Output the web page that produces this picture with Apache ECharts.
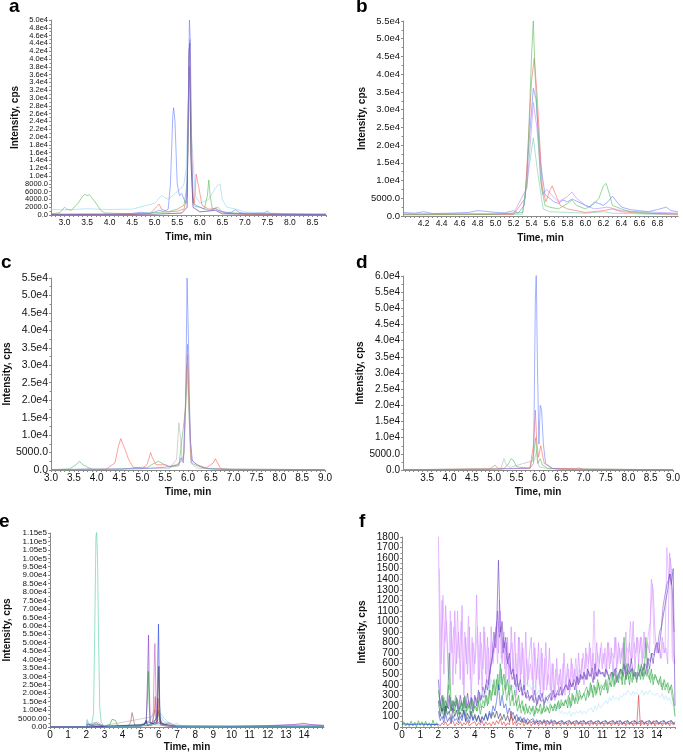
<!DOCTYPE html>
<html><head><meta charset="utf-8">
<script src="https://cdn.jsdelivr.net/npm/echarts@6/dist/echarts.min.js"></script>
<style>html,body{margin:0;padding:0;background:#fff}#c{width:683px;height:753px}</style>
</head><body><div id="c"></div>
<script>
// ---------- Panel a ----------
const aXTicks = [3.0,3.5,4.0,4.5,5.0,5.5,6.0,6.5,7.0,7.5,8.0,8.5];
const aBlue = [[2.7,300],[3.0,250],[3.5,300],[4.0,250],[4.5,400],[4.7,700],[4.9,400],[5.0,800],[5.1,1200],[5.2,900],[5.3,1500],[5.35,8000],[5.4,25000],[5.42,27500],[5.45,24000],[5.5,8000],[5.55,5000],[5.6,5500],[5.65,4000],[5.7,3000],[5.74,20000],[5.77,50000],[5.79,45000],[5.82,15000],[5.86,3000],[5.9,2200],[6.0,2000],[6.1,1600],[6.2,1200],[6.3,1400],[6.35,1800],[6.4,1200],[6.5,800],[6.6,600],[6.7,700],[6.8,1400],[6.85,800],[6.95,500],[7.2,400],[7.45,500],[7.5,1100],[7.55,400],[7.8,200],[8.5,200],[8.8,200]];
const aCyan = [[2.7,1500],[3.0,1300],[3.5,1600],[4.0,1400],[4.5,1500],[5.0,3000],[5.15,5000],[5.3,4000],[5.5,6000],[5.6,7000],[5.65,8000],[5.7,12000],[5.77,38000],[5.82,20000],[5.9,5000],[6.0,3000],[6.2,4000],[6.35,7000],[6.45,8000],[6.5,4000],[6.6,2000],[6.8,1500],[7.0,800],[7.5,500],[8.0,300],[8.8,200]];
const aRed = [[2.7,100],[4.5,200],[4.9,400],[5.05,2200],[5.1,2800],[5.15,1500],[5.3,800],[5.5,1000],[5.65,1500],[5.72,5000],[5.76,40000],[5.78,45000],[5.8,30000],[5.84,5000],[5.88,3000],[5.92,10500],[5.95,11000],[5.98,7000],[6.05,2500],[6.2,1500],[6.35,1600],[6.45,1000],[6.6,400],[7.0,200],[8.8,100]];
const aGreen = [[2.7,200],[2.9,600],[3.0,2000],[3.05,1500],[3.15,1200],[3.3,3000],[3.4,4800],[3.45,5300],[3.5,5000],[3.55,5200],[3.6,4500],[3.7,3000],[3.8,1200],[3.9,500],[4.5,300],[5.0,600],[5.3,800],[5.5,1500],[5.65,2500],[5.72,8000],[5.77,38000],[5.8,20000],[5.85,3000],[6.0,2000],[6.1,1500],[6.17,5000],[6.2,9000],[6.23,5000],[6.28,1500],[6.4,2000],[6.5,800],[7.0,300],[8.8,200]];
const aDark = [[2.7,100],[5.0,200],[5.6,500],[5.72,2000],[5.76,42000],[5.78,44000],[5.8,15000],[5.85,2000],[6.0,800],[6.35,1200],[6.5,300],[8.8,100]];

// ---------- Panel b ----------
const bXTicks = [4.2,4.4,4.6,4.8,5.0,5.2,5.4,5.6,5.8,6.0,6.2,6.4,6.6,6.8];
const bBlue = [[3.97,1000],[4.1,800],[4.2,1200],[4.3,700],[4.5,800],[4.7,1000],[4.8,1500],[4.9,1300],[5.0,1000],[5.1,900],[5.2,1500],[5.25,800],[5.32,3000],[5.37,20000],[5.42,36000],[5.45,33000],[5.5,15000],[5.55,6000],[5.6,5000],[5.65,4000],[5.7,3500],[5.75,4500],[5.8,4000],[5.85,4800],[5.9,4200],[6.0,3000],[6.05,2500],[6.1,4000],[6.15,3500],[6.2,3000],[6.25,4000],[6.3,5600],[6.35,4000],[6.4,2500],[6.5,1800],[6.6,1500],[6.7,1200],[6.8,1800],[6.9,2500],[6.95,1500],[7.03,1200]];
const bGreen = [[3.97,500],[5.0,500],[5.3,1000],[5.35,10000],[5.4,45000],[5.42,55000],[5.44,40000],[5.5,10000],[5.55,3000],[5.6,2500],[5.7,2000],[5.8,3500],[5.85,4500],[5.9,3000],[6.0,2000],[6.1,3500],[6.15,5000],[6.2,8500],[6.23,9200],[6.27,6000],[6.3,3000],[6.4,2000],[6.5,1200],[6.7,800],[7.03,600]];
const bRed = [[3.97,400],[5.2,400],[5.33,5000],[5.4,38000],[5.43,44500],[5.46,35000],[5.52,8000],[5.56,4000],[5.6,7000],[5.63,8500],[5.67,6000],[5.72,3000],[5.8,2000],[5.9,1500],[6.0,1000],[6.2,1500],[6.3,2000],[6.4,1200],[6.6,800],[7.03,500]];
const bPurple = [[3.97,600],[5.2,700],[5.35,8000],[5.42,32000],[5.46,25000],[5.52,6000],[5.57,7500],[5.62,6000],[5.7,4000],[5.8,5500],[5.85,6800],[5.9,5000],[6.0,3000],[6.1,2000],[6.25,2500],[6.4,1500],[6.6,1200],[7.03,800]];
const bTeal = [[3.97,300],[5.3,500],[5.38,15000],[5.42,22000],[5.47,12000],[5.53,2000],[5.6,1200],[5.8,1000],[6.0,800],[6.2,1200],[6.3,800],[7.03,300]];

// ---------- Panel c ----------
const cXTicks = [3.0,3.5,4.0,4.5,5.0,5.5,6.0,6.5,7.0,7.5,8.0,8.5,9.0];
const cBlue = [[3.0,100],[3.5,200],[3.8,300],[4.0,200],[5.0,400],[5.5,800],[5.8,1500],[5.85,3500],[5.9,2000],[5.95,20000],[5.98,55000],[6.01,37000],[6.05,8000],[6.1,2500],[6.2,1500],[6.3,800],[6.5,300],[7.0,100],[9.0,100]];
const cRed = [[3.0,100],[4.2,200],[4.4,2000],[4.48,7000],[4.53,9000],[4.57,7500],[4.62,6000],[4.7,3000],[4.8,800],[5.0,500],[5.1,1500],[5.15,3500],[5.18,5000],[5.22,3500],[5.3,1500],[5.5,1500],[5.6,1000],[5.75,1500],[5.9,3000],[5.96,25000],[5.99,36000],[6.02,20000],[6.07,3000],[6.2,1500],[6.4,600],[6.55,2000],[6.6,3200],[6.65,2000],[6.72,300],[7.0,100],[9.0,100]];
const cGreen = [[3.0,100],[3.4,300],[3.55,1500],[3.62,2500],[3.7,1500],[3.8,800],[3.9,200],[4.5,200],[5.0,800],[5.1,600],[5.2,1500],[5.35,2500],[5.45,1800],[5.6,800],[5.8,1200],[5.95,18000],[5.99,33000],[6.03,15000],[6.08,2000],[6.2,1200],[6.4,400],[7.0,100],[9.0,100]];
const cGray = [[3.0,50],[5.6,500],[5.75,3000],[5.8,13500],[5.83,10000],[5.87,3000],[5.92,5000],[5.97,30000],[6.01,20000],[6.06,2000],[6.2,500],[9.0,50]];

// ---------- Panel d ----------
const dXTicks = [3.5,4.0,4.5,5.0,5.5,6.0,6.5,7.0,7.5,8.0,8.5,9.0];
const dBlue = [[2.96,100],[5.0,200],[5.2,400],[5.5,500],[5.8,600],[5.88,2000],[5.92,52000],[5.94,61000],[5.97,30000],[6.0,8000],[6.03,20000],[6.06,18500],[6.1,8000],[6.15,2000],[6.3,500],[6.5,200],[9.0,100]];
const dRed = [[2.96,100],[4.9,300],[5.02,1500],[5.08,500],[5.3,400],[5.8,500],[5.88,8000],[5.92,18500],[5.95,9000],[5.99,4000],[6.04,7500],[6.08,7000],[6.12,2000],[6.3,500],[6.8,400],[6.9,600],[7.0,200],[9.0,100]];
const dGreen = [[2.96,100],[5.2,300],[5.3,1500],[5.38,3500],[5.43,3000],[5.5,1000],[5.8,500],[5.88,5000],[5.93,10000],[5.97,2000],[6.03,3500],[6.08,1500],[6.2,500],[6.5,300],[9.0,100]];
const dGray = [[2.96,50],[5.15,500],[5.22,3500],[5.27,1500],[5.35,800],[5.9,3000],[5.95,6000],[6.0,1000],[6.2,400],[9.0,50]];

// ---------- Panel e ----------
const eXTicks = [0,1,2,3,4,5,6,7,8,9,10,11,12,13,14];
const eTeal = [[0,0],[2.0,0],[2.05,2500],[2.15,800],[2.3,1500],[2.4,8000],[2.47,60000],[2.53,112000],[2.57,116000],[2.62,100000],[2.68,50000],[2.74,12000],[2.82,3000],[2.95,800],[3.2,400],[4.0,300],[5.0,500],[5.4,1500],[6.0,1200],[7.0,400],[10.0,200],[15.1,300]];
const eGreen = [[0,0],[2.0,0],[2.2,800],[2.6,1500],[3.0,500],[3.3,1500],[3.42,4500],[3.5,5200],[3.6,4000],[3.72,1000],[4.0,300],[5.0,800],[5.3,3000],[5.38,20000],[5.42,33000],[5.46,15000],[5.52,2000],[5.9,5000],[5.98,9000],[6.05,3000],[6.3,1500],[7.0,500],[12.0,300],[14.0,800],[15.1,500]];
const eBrown = [[0,0],[2.0,0],[4.3,300],[4.45,3000],[4.52,8500],[4.58,6000],[4.66,1500],[4.8,300],[5.2,1500],[5.3,3800],[5.36,1500],[5.9,2000],[5.95,17000],[6.0,8000],[6.1,1000],[7.0,200],[15.1,200]];
const ePurple = [[0,0],[2.0,0],[2.05,1500],[2.3,1200],[2.55,2500],[2.62,3500],[2.7,1500],[3.0,400],[5.0,800],[5.3,2000],[5.38,30000],[5.43,54500],[5.47,25000],[5.52,3000],[5.7,1500],[6.0,2500],[6.3,800],[7.0,400],[10.0,500],[12.0,800],[13.5,1500],[14.0,2200],[14.3,1500],[15.1,1000]];
const ePink = [[0,0],[2.0,0],[2.1,2000],[2.3,800],[3.0,300],[5.5,1000],[5.68,3000],[5.74,35000],[5.78,49500],[5.82,30000],[5.87,3000],[6.2,1500],[6.6,2500],[6.8,1000],[7.0,600],[10.0,300],[14.0,1200],[15.1,800]];
const eBlue = [[0,0],[2.0,0],[2.1,500],[3.0,300],[5.0,400],[5.4,3000],[5.7,2000],[5.9,6000],[5.95,45000],[5.98,61000],[6.02,30000],[6.06,5000],[6.2,2000],[6.5,800],[7.0,300],[15.1,200]];
const eDark = [[0,0],[2.0,0],[3.0,200],[5.2,1500],[5.3,4000],[5.36,1000],[5.9,3000],[5.97,25000],[6.0,36000],[6.04,12000],[6.1,2000],[7.0,300],[15.1,200]];
const eRed = [[0,0],[2.0,0],[2.1,1500],[2.5,500],[5.6,800],[5.75,8000],[5.8,18000],[5.85,5000],[5.95,4000],[6.0,10000],[6.05,3000],[6.3,800],[7.0,300],[15.1,100]];
const eCyan = [[0,0],[2.0,0],[2.05,4000],[2.2,1500],[3.0,500],[5.0,1500],[5.5,4000],[5.8,10000],[5.9,6000],[6.1,8000],[6.2,9000],[6.3,5000],[6.5,3000],[6.7,1500],[7.0,2000],[7.2,800],[8.0,300],[15.1,200]];
const eGray = [[0,0],[2.0,0],[2.05,4500],[2.1,1500],[2.6,3000],[3.0,800],[5.6,6000],[5.75,10000],[5.85,3000],[6.1,6000],[6.3,3000],[7.0,800],[15.1,200]];

// ---------- Panel f (sampled every 0.1 min; "A" traces start at 2.00, "B" traces at 2.05) ----------
const fXTicks = [0,1,2,3,4,5,6,7,8,9,10,11,12,13,14];
const fStep = 0.1;
const fViolet = [1850,300,1200,500,1150,700,350,1000,400,1100,600,
 900,450,1150,300,850,500,950,250,800,600,
 1250,400,900,350,950,500,850,300,950,600,
 850,1000,700,1100,600,900,400,850,350,950,
 500,900,300,850,450,800,350,900,400,700,
 850,300,750,450,800,300,700,350,800,400,
 750,300,600,250,650,350,550,300,700,400,
 600,300,650,400,550,350,700,450,650,400,
 750,450,800,500,700,450,800,500,750,550,
 700,500,800,550,750,500,850,550,800,600,
 750,550,900,500,800,600,1000,550,850,600,
 850,600,900,650,800,700,1400,1300,900,700,
 800,650,850,700,750,600,1650,1500,700,600];
const fViolet2 = [1500,600,1250,800,1000,450,1100,700,950,500,
 1100,650,1000,400,900,600,1050,450,850,500,
 700,950,450,800,550,900,400,750,500,800,
 700,950,600,1200,650,850,550,800,450,700,
 800,450,700,400,850,500,750,350,650,450,
 600,450,800,350,650,400,750,300,650,350,
 500,350,600,300,550,400,500,350,600,300,
 450,550,350,600,450,650,400,550,500,700,
 550,700,600,750,500,1100,550,700,600,800,
 600,750,550,800,600,700,650,850,600,750,
 650,800,600,750,700,1000,650,800,700,850,
 700,850,650,800,750,900,1000,1350,800,750,
 700,750,650,800,700,1700,1400,1600,650,600];
const fDarkPurple = [450,200,300,150,250,180,300,150,250,200,280,
 150,300,200,250,180,320,200,280,150,300,
 200,350,250,300,280,400,350,500,600,700,
 800,950,1580,900,1000,750,850,600,700,500,
 550,400,500,350,450,300,400,280,350,250,
 300,250,350,200,300,250,320,200,280,250,
 300,250,350,280,320,300,380,300,350,400,
 350,450,380,420,350,480,400,500,450,520,
 450,550,480,500,420,600,480,550,500,520,
 480,550,500,450,520,480,550,420,500,550,
 500,600,450,550,500,650,480,520,450,500,
 550,480,600,500,650,550,700,600,750,800,
 700,850,1000,1100,1200,1300,1450,1350,1500,200];
const fDarkPurple2 = [300,180,260,140,220,170,280,160,240,190,
 260,170,230,150,290,180,250,170,270,200,
 280,230,330,260,380,320,450,400,550,650,
 900,750,1100,850,950,700,800,650,600,550,
 450,500,380,420,330,380,300,330,270,300,
 270,300,230,280,220,300,240,260,230,280,
 270,320,260,300,280,350,300,320,330,380,
 400,350,420,380,450,400,470,420,490,460,
 500,450,530,480,560,450,520,480,540,500,
 520,470,540,480,500,520,480,560,470,520,
 550,480,580,500,600,520,560,480,520,480,
 520,580,540,600,560,650,620,700,680,750,
 780,900,950,1150,1250,1350,1400,1450,1300,900];
const fGreen = [350,200,150,280,120,250,700,180,220,150,250,
 120,200,150,280,100,220,180,250,130,200,
 150,250,120,200,180,300,200,350,250,400,
 300,450,350,600,400,500,350,450,300,400,
 250,350,200,300,180,250,150,220,130,200,
 150,200,120,180,150,220,130,200,150,180,
 130,200,150,220,170,250,180,230,200,260,
 180,280,200,300,220,350,250,300,280,320,
 250,350,300,400,280,380,320,420,300,380,
 350,450,320,420,380,500,400,480,420,550,
 400,850,450,520,400,550,450,500,420,600,
 450,550,480,850,500,450,550,400,500,450,
 400,480,350,450,380,420,350,400,300,100];
const fGreen2 = [250,150,300,120,200,400,150,250,180,300,
 200,120,250,180,300,150,200,120,250,180,
 200,150,280,180,250,200,300,220,350,300,
 450,300,500,350,550,300,400,250,350,200,
 300,200,250,150,220,130,200,120,180,150,
 120,180,100,200,130,170,120,180,140,200,
 160,220,180,200,150,230,170,260,200,250,
 220,300,180,320,250,280,220,350,260,300,
 300,380,280,420,320,400,300,450,350,400,
 380,420,350,480,400,520,380,500,450,480,
 450,520,400,600,450,500,420,550,480,520,
 480,600,450,520,480,550,420,500,450,480,
 420,450,380,420,350,400,320,380,280,200];
const fCyan = [100,150,200,120,180,100,150,200,130,170,120,
 150,180,120,200,150,170,130,180,150,200,
 200,250,300,250,350,300,400,350,450,380,
 450,400,500,420,480,400,450,380,420,350,
 400,350,420,380,450,350,400,420,380,400,
 350,400,380,300,350,280,320,250,300,220,
 250,200,180,220,150,180,130,150,120,140,
 120,150,100,140,120,150,130,160,120,150,
 130,160,150,180,140,200,160,220,180,200,
 200,250,220,280,250,300,260,280,250,300,
 280,320,300,350,320,300,340,310,330,300,
 320,350,300,340,310,350,320,330,300,320,
 300,280,320,260,300,250,280,220,200,100];
const fBlue = [150,60,100,40,120,50,90,30,110,60,80,
 40,100,60,150,50,90,40,120,60,100,
 50,110,40,90,60,130,70,150,100,200,
 150,250,400,200,300,180,220,120,180,100,
 140,80,120,60,100,50,90,40,80,60,
 50,80,40,70,30,60,40,70,30,60,
 40,70,30,60,40,50,30,60,40,50,
 30,60,40,50,30,60,40,50,30,60,
 40,50,30,60,40,50,30,60,40,50,
 30,60,40,50,30,60,40,50,30,60,
 40,50,30,60,40,50,30,60,40,50,
 30,60,40,50,30,60,40,50,30,60,
 40,50,30,60,40,50,30,60,40,30];
const fNavy = [250,100,180,80,200,120,150,60,180,100,160,
 70,140,90,160,60,130,80,150,70,120,
 60,110,50,100,70,120,60,130,80,140,
 90,150,80,130,70,120,60,110,50,100,
 60,100,40,90,50,80,40,70,30,60,
 40,60,30,50,40,60,30,50,40,60,
 30,50,40,60,30,50,40,60,30,50,
 40,60,30,50,40,60,30,50,40,60,
 30,50,40,60,30,50,40,60,30,50,
 40,60,30,50,40,60,30,50,40,60,
 30,50,40,60,30,50,40,60,30,50,
 40,60,30,50,40,60,30,50,40,60,
 30,50,40,60,30,50,40,60,30,50];
const fRed = [30,10,40,20,50,10,30,20,60,10,40,
 20,50,10,40,20,60,10,30,20,50,
 10,40,20,60,10,50,20,40,10,50,
 20,60,30,80,20,50,10,40,20,150,
 20,50,10,40,20,60,10,40,20,50,
 10,40,20,50,10,40,20,60,10,40,
 20,50,10,40,20,50,10,40,20,50,
 10,40,20,50,10,40,20,60,10,40,
 20,50,10,40,20,50,10,40,20,50,
 10,40,20,50,10,40,20,60,10,40,
 20,50,10,40,20,50,10,40,20,300,
 10,40,20,50,10,40,20,60,10,40,
 20,50,10,40,20,50,10,40,20,30];
const fEarlyGreen = [[0,20],[0.1,50],[0.2,10],[0.3,40],[0.4,5],[0.5,55],[0.6,10],[0.7,45],[0.8,0],[0.9,60],[1.0,15],[1.1,50],[1.2,5],[1.3,55],[1.4,10],[1.5,40],[1.6,0],[1.7,65],[1.8,10],[1.9,40],[2.0,0]];
const fEarlyBlue = [[0,30],[0.5,25],[1.0,28],[1.5,25],[2.0,25]];

// ---------- helpers ----------
const FONT = 'Liberation Sans, Arial, sans-serif';
function sci(v, d) {
  if (v === 0) return (0).toFixed(d);
  if (v < 10000) return v.toFixed(d);
  const e = Math.floor(Math.log10(v) + 1e-9);
  return (v / Math.pow(10, e)).toFixed(d) + 'e' + e;
}
function fSeries(vals, start) { return vals.map((v, i) => [+(start + i * fStep).toFixed(2), v]); }
function range(a, b, s) { const r = []; for (let x = a; x <= b + 1e-9; x += s) r.push(+x.toFixed(3)); return r; }

const grids = [
  {left: 51, top: 20, width: 275, height: 195},
  {left: 403, top: 21, width: 275, height: 195},
  {left: 51, top: 278, width: 274, height: 192},
  {left: 403, top: 276, width: 275, height: 194},
  {left: 50, top: 533, width: 274, height: 195},
  {left: 402, top: 537, width: 273, height: 191}
];
const axisCol = '#8a8a8a';
function xAx(i, min, max, labels, minorStep, dec, fs, gap) {
  return {type: 'value', gridIndex: i, min, max,
    name: 'Time, min', nameLocation: 'middle', nameGap: gap,
    nameTextStyle: {fontFamily: FONT, fontWeight: 'bold', fontSize: 10, color: '#111'},
    axisLine: {show: true, onZero: false, lineStyle: {color: axisCol, width: 1}},
    axisTick: {show: true, length: 2, lineStyle: {color: axisCol}, customValues: range(Math.ceil(min / minorStep - 1e-9) * minorStep, max, minorStep)},
    axisLabel: {show: true, margin: 3, fontFamily: FONT, fontSize: fs, color: '#111', customValues: labels, formatter: v => dec < 0 ? String(v) : v.toFixed(dec)},
    splitLine: {show: false}};
}
function yAx(i, max, interval, fmt, fs, gap, showMin) {
  return {type: 'value', gridIndex: i, min: 0, max, interval, position: 'left',
    name: 'Intensity, cps', nameLocation: 'middle', nameGap: gap,
    nameTextStyle: {fontFamily: FONT, fontWeight: 'bold', fontSize: 10, color: '#111'},
    axisLine: {show: true, lineStyle: {color: axisCol, width: 1}},
    axisTick: {show: true, length: 2, lineStyle: {color: axisCol}},
    minorTick: {show: true, splitNumber: 2, length: 1.5, lineStyle: {color: axisCol}},
    axisLabel: {margin: 3, fontFamily: FONT, fontSize: fs, color: '#111', formatter: fmt, showMinLabel: showMin !== false, showMaxLabel: true, hideOverlap: false},
    splitLine: {show: false}};
}
// extra axis that only carries the "0.0" label of panel a
const aZeroAxis = {type: 'value', gridIndex: 0, min: 0, max: 50000, position: 'left',
  axisLine: {show: false}, axisTick: {show: false}, splitLine: {show: false},
  axisLabel: {margin: 3, fontFamily: FONT, fontSize: 7.5, color: '#111', customValues: [0], formatter: v => sci(v, 1)}};
function S(data, color, gi, w, op) {
  return {type: 'line', data, xAxisIndex: gi, yAxisIndex: gi, symbol: 'none', showSymbol: false,
    lineStyle: {width: w || 0.8, color, opacity: op || 0.8}, silent: true, animation: false, z: 2};
}
const C = {blue: '#6f86ff', red: '#ff6a6a', green: '#5fbf5f', cyan: '#9ad6ee', dark: '#5a3a7a', purple: '#c08cff', teal: '#80d0b8', gray: '#b8b8b8'};

const option = {
  animation: false,
  title: [
    {text: 'a', left: 9, top: -3},
    {text: 'b', left: 356, top: -3},
    {text: 'c', left: 1, top: 253},
    {text: 'd', left: 356, top: 253},
    {text: 'e', left: -1, top: 512},
    {text: 'f', left: 359, top: 512}
  ].map(t => Object.assign(t, {padding: 0, textStyle: {fontFamily: FONT, fontWeight: 'bold', fontSize: 19, color: '#000'}})),
  grid: grids,
  xAxis: [
    xAx(0, 2.7, 8.8, aXTicks, 0.1, 1, 8.5, 17),
    xAx(1, 3.97, 7.03, bXTicks, 0.05, 1, 8.5, 17),
    xAx(2, 3.0, 9.0, cXTicks, 0.1, 1, 10, 17),
    xAx(3, 2.96, 9.0, dXTicks, 0.1, 1, 10, 17),
    xAx(4, 0, 15.1, eXTicks, 0.25, -1, 10, 15),
    xAx(5, 0, 15.0, fXTicks, 0.25, -1, 10, 15)
  ],
  yAxis: [
    yAx(0, 50000, 2000, v => sci(v, 1), 7.5, 31, false),
    yAx(1, 55000, 5000, v => sci(v, 1), 9.5, 35),
    yAx(2, 55000, 5000, v => sci(v, 1), 10.5, 38),
    yAx(3, 60000, 5000, v => sci(v, 1), 10, 36),
    yAx(4, 115000, 5000, v => sci(v, 2), 8, 38),
    yAx(5, 1800, 100, v => String(v), 10, 35),
    aZeroAxis
  ],
  series: [
    S(aCyan, C.cyan, 0), S(aGreen, C.green, 0), S(aRed, C.red, 0), S(aDark, C.dark, 0), S(aBlue, C.blue, 0),
    S(bTeal, C.teal, 1), S(bPurple, C.purple, 1), S(bBlue, C.blue, 1), S(bRed, C.red, 1), S(bGreen, C.green, 1),
    S(cGray, C.gray, 2), S(cGreen, C.green, 2), S(cRed, C.red, 2), S(cBlue, C.blue, 2),
    S(dGray, C.gray, 3), S(dGreen, C.green, 3), S(dRed, C.red, 3), S(dBlue, C.blue, 3),
    S(eGray, C.gray, 4), S(eCyan, '#80d8f0', 4), S(eBrown, '#b05a5a', 4), S(eGreen, '#3aa83a', 4), S(eRed, '#e04848', 4),
    S(ePink, '#d060c8', 4), S(eDark, '#303040', 4), S(ePurple, '#8a3fd0', 4), S(eBlue, '#3348e0', 4), S(eTeal, '#5fd0a8', 4),
    S(fSeries(fViolet, 2.0), '#d088ff', 5, 0.7, 0.85),
    S(fSeries(fViolet2, 2.05), '#dc9cff', 5, 0.7, 0.85),
    S(fSeries(fCyan, 2.0), '#bfeaf8', 5, 0.8, 0.9),
    S(fSeries(fDarkPurple, 2.0), '#6a3cc0', 5, 0.7, 0.85),
    S(fSeries(fDarkPurple2, 2.05), '#7a50c8', 5, 0.7, 0.8),
    S(fSeries(fGreen, 2.0), '#2fa040', 5, 0.7, 0.85),
    S(fSeries(fGreen2, 2.05), '#3cb050', 5, 0.7, 0.8),
    S(fSeries(fNavy, 2.0), '#203050', 5, 0.7, 0.8),
    S(fSeries(fBlue, 2.0), '#2f4fd8', 5, 0.7, 0.85),
    S(fSeries(fRed, 2.0), '#e03030', 5, 0.7, 0.85),
    S(fEarlyGreen, '#40b040', 5, 0.8, 0.85),
    S(fEarlyBlue, '#2f4fd8', 5, 1, 0.9)
  ]
};
const chart = echarts.init(document.getElementById('c'), null, {renderer: 'canvas'});
chart.setOption(option);
</script></body></html>
